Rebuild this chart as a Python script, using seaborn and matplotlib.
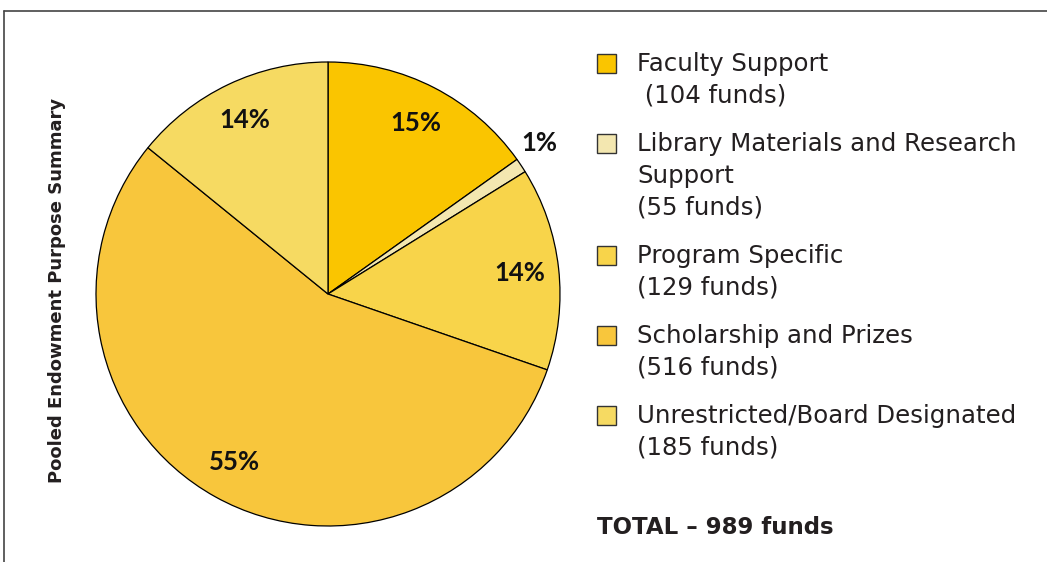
import numpy as np
import matplotlib
matplotlib.use("Agg")
import matplotlib.pyplot as plt
from matplotlib.patches import Rectangle
from matplotlib.lines import Line2D
import seaborn as sns

categories = ["Faculty Support", "Library Materials and Research Support", "Program Specific",
              "Scholarship and Prizes", "Unrestricted/Board Designated"]
legend_lines = [["Faculty Support", " (104 funds)"],
                ["Library Materials and Research", "Support", "(55 funds)"],
                ["Program Specific", "(129 funds)"],
                ["Scholarship and Prizes", "(516 funds)"],
                ["Unrestricted/Board Designated", "(185 funds)"]]
funds = [104, 55, 129, 516, 185]
percents = [15, 1, 14, 55, 14]
colors = ["#FAC500", "#F3E7B0", "#F8D44A", "#F8C63C", "#F6DA62"]

sns.set_theme(style="white")
plt.rcParams['font.family'] = ['DejaVu Sans']

W, H = 1047, 562
fig = plt.figure(figsize=(W / 100, H / 100), dpi=100)

# pie axes: centre (328, 294), radius 232 px
cx, cy, r = 328, 294, 232
ax = fig.add_axes([(cx - r) / W, (H - cy - r) / H, 2 * r / W, 2 * r / H])
palette = sns.color_palette(colors)
wedges, texts, autotexts = ax.pie(percents, colors=palette, startangle=90, counterclock=False,
                                  autopct=lambda p: f"{p * sum(percents) / 100:.0f}%", pctdistance=0.83,
                                  wedgeprops=dict(edgecolor="black", linewidth=0.9))
ax.set_xlim(-1, 1)
ax.set_ylim(-1, 1)
ax.set_aspect("equal")
ax.axis("off")

for w, t, p in zip(wedges, autotexts, percents):
    t.set_fontfamily("Lato")
    t.set_fontweight("bold")
    t.set_fontsize(18.5)
    t.set_color("#111111")
    if p < 3:
        ang = np.deg2rad((w.theta1 + w.theta2) / 2)
        t.set_position((1.12 * np.cos(ang) - 0.02, 1.12 * np.sin(ang) + 0.03))

# legend drawn by hand
y = 63
for i, (lines, col) in enumerate(zip(legend_lines, colors)):
    fig.patches.append(Rectangle((597 / W, 1 - (y + 10) / H), 19 / W, 19 / H, transform=fig.transFigure,
                                 facecolor=col, edgecolor="#333333", linewidth=1.0))
    for j, line in enumerate(lines):
        fig.text(637 / W, 1 - (y + j * 32 + 8) / H, line, fontsize=17.6, color="#231F20",
                 va="baseline", ha="left")
    y += len(lines) * 32 + 16

fig.text(597 / W, 1 - 527 / H, f"TOTAL \u2013 {sum(funds)} funds", fontsize=16.5, fontweight="bold",
         color="#231F20", va="center", ha="left")

fig.text(57 / W, 1 - 290 / H, "Pooled Endowment Purpose Summary", rotation=90, fontsize=13,
         fontweight="bold", color="#231F20", va="center", ha="center")

# frame on top and left
fig.add_artist(Line2D([3.5 / W, 1], [1 - 11 / H, 1 - 11 / H], transform=fig.transFigure, color="#444444", linewidth=1.2))
fig.add_artist(Line2D([3.5 / W, 3.5 / W], [0, 1 - 11 / H], transform=fig.transFigure, color="#444444", linewidth=1.2))

fig.savefig("out.png", dpi=100)
